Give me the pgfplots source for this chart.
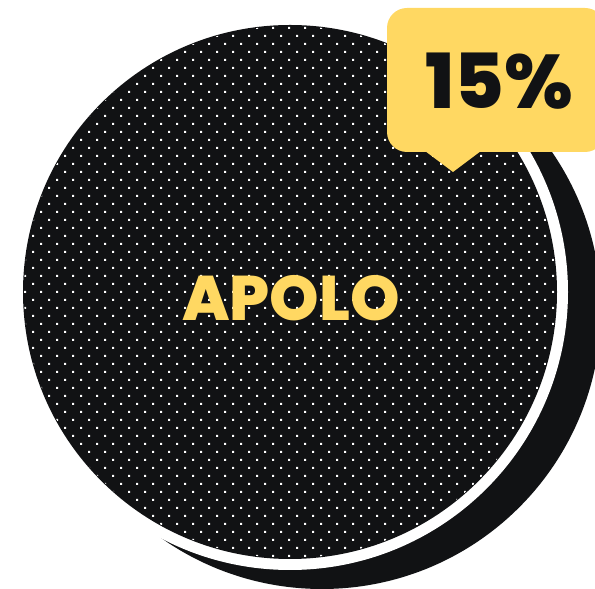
\documentclass[border=0pt]{standalone}
\usepackage{fontspec}
\setmainfont{Poppins}
\newfontfamily\heavy{Poppins}[UprightFont={* ExtraBold}]
\usepackage{pgfplots}
\pgfplotsset{compat=1.18}
\usetikzlibrary{patterns}
\definecolor{ink}{HTML}{111214}
\definecolor{gold}{HTML}{FFD862}
\pgfdeclarepatternformonly{dotgrid}{\pgfpoint{-1pt}{-1pt}}{\pgfpoint{17pt}{17pt}}{\pgfpoint{16pt}{16pt}}{%
  \pgfpathrectangle{\pgfpoint{0pt}{0pt}}{\pgfpoint{2pt}{2pt}}%
  \pgfpathrectangle{\pgfpoint{8pt}{8pt}}{\pgfpoint{2pt}{2pt}}%
  \pgfusepath{fill}}
\begin{document}
\begin{tikzpicture}
\begin{axis}[
  scale only axis, width=595pt, height=589pt,
  xmin=0, xmax=595, ymin=0, ymax=589,
  hide axis, clip=true]
% shadow, white ring, main disc (centre x, y; radius)
\fill[ink] (axis cs:322,279) circle[radius=279];
\fill[white] (axis cs:290,297) circle[radius=278];
\fill[ink] (axis cs:290,297) circle[radius=267];
\fill[pattern=dotgrid, pattern color=white] (axis cs:290,297) circle[radius=266];
\node[text=gold, font=\heavy\fontsize{63}{63}\selectfont] at (axis cs:291,291) {APOLO};
% callout with value 15
\fill[gold, rounded corners=20pt] (axis cs:387,437) rectangle (axis cs:605,581);
\fill[gold] (axis cs:425,438) -- (axis cs:453,417) -- (axis cs:481,438) -- cycle;
\node[text=ink, font=\heavy\fontsize{76}{76}\selectfont] at (axis cs:499,508) {15\%};
\end{axis}
\pgfresetboundingbox
\path (current axis.south west) rectangle (current axis.north east);
\end{tikzpicture}
\end{document}
